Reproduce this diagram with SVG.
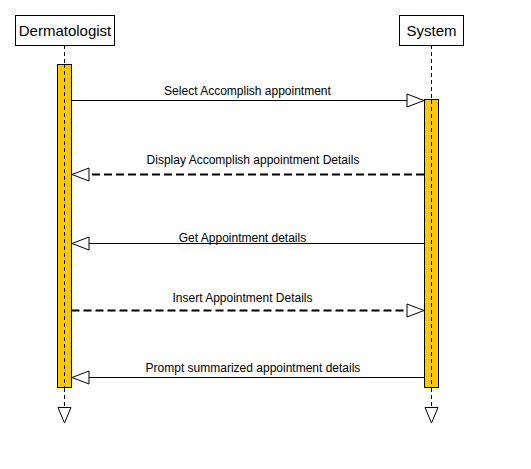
<svg xmlns="http://www.w3.org/2000/svg" width="531" height="469" viewBox="0 0 531 469">
<style>
.hdr{fill:#fff;stroke:#000;stroke-width:1}
.ht{font-family:"Liberation Sans",Arial,sans-serif;font-size:15px;text-anchor:middle;fill:#000}
.lab{font-family:"Liberation Sans",Arial,sans-serif;font-size:12px;text-anchor:middle;fill:#000}
.life{stroke:#000;stroke-width:1;stroke-dasharray:4,3;fill:none}
.act{fill:#FFC800;stroke:#000;stroke-width:1}
.sol{stroke:#000;stroke-width:1;fill:none}
.dsh{stroke:#000;stroke-width:2;stroke-dasharray:8,4;fill:none}
.end{fill:#fff;stroke:#000;stroke-width:1}
.ah{fill:#fff;stroke:#000;stroke-width:1}
</style>
<rect width="531" height="469" fill="#fff"/>
<g id="dermatologist">
<rect class="hdr" x="15.5" y="15.5" width="99" height="30"/>
<text class="ht" x="65" y="36">Dermatologist</text>
<line class="life" x1="64.5" y1="45" x2="64.5" y2="408"/>
<rect class="act" x="57.5" y="64.5" width="14" height="323"/>
<line class="life" x1="64.5" y1="64" x2="64.5" y2="388"/>
<polygon class="end" points="58,407.5 71,407.5 64.5,423"/>
</g>
<g id="system">
<rect class="hdr" x="399.5" y="15.5" width="64" height="30"/>
<text class="ht" x="431.5" y="36">System</text>
<line class="life" x1="431.5" y1="45" x2="431.5" y2="408"/>
<rect class="act" x="424.5" y="99.5" width="14" height="288"/>
<line class="life" x1="431.5" y1="100" x2="431.5" y2="388"/>
<polygon class="end" points="425,407.5 438,407.5 431.5,423"/>
</g>
<g id="connectors">
<line class="sol" x1="71.5" y1="100.5" x2="407" y2="100.5"/>
<polygon class="ah" points="407,94 424,100.5 407,107"/>
<text class="lab" x="247.5" y="95">Select Accomplish appointment</text>
<line class="dsh" x1="424" y1="174.5" x2="89" y2="174.5"/>
<polygon class="ah" points="89,168 72,174.5 89,181"/>
<text class="lab" x="253" y="164">Display Accomplish appointment Details</text>
<line class="sol" x1="424" y1="243.5" x2="89" y2="243.5"/>
<polygon class="ah" points="89,237 72,243.5 89,250"/>
<text class="lab" x="242.5" y="242">Get Appointment details</text>
<line class="dsh" x1="71.5" y1="310.5" x2="407" y2="310.5"/>
<polygon class="ah" points="407,304 424,310.5 407,317"/>
<text class="lab" x="242.5" y="302">Insert Appointment Details</text>
<line class="sol" x1="424" y1="377.5" x2="89" y2="377.5"/>
<polygon class="ah" points="89,371 72,377.5 89,384"/>
<text class="lab" x="253" y="372">Prompt summarized appointment details</text>
</g>
</svg>
